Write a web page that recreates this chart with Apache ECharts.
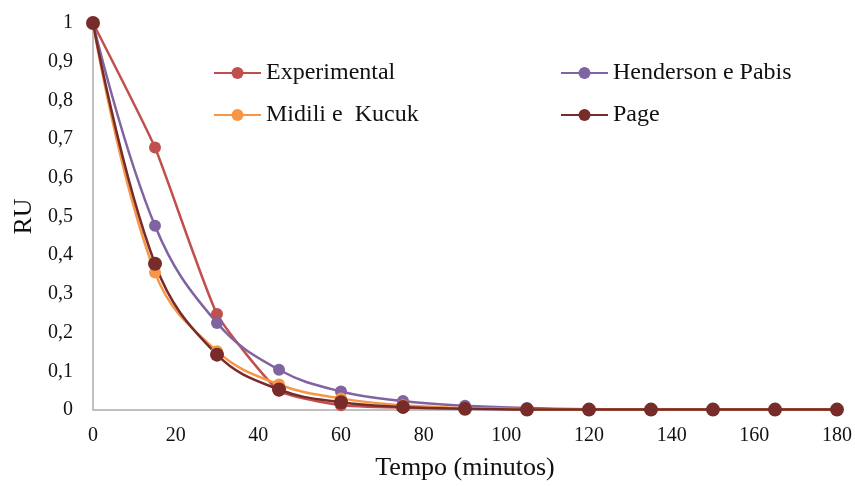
<!DOCTYPE html>
<html>
<head>
<meta charset="utf-8">
<script src="https://cdn.jsdelivr.net/npm/echarts@6/dist/echarts.min.js"></script>
<style>
  html, body { margin: 0; padding: 0; background: #fff; }
  #chart { width: 855px; height: 486px; }
</style>
</head>
<body>
<div id="chart"></div>
<script>
// tempo (minutos)
var tempo = [0, 15, 30, 45, 60, 75, 90, 105, 120, 135, 150, 165, 180]
var experimental = [1, 0.678, 0.248, 0.05, 0.012, 0.006, 0.004, 0.002, 0.001, 0.001, 0.001, 0.001, 0.001]
var henderson = [1, 0.476, 0.225, 0.104, 0.048, 0.023, 0.011, 0.005, 0.002, 0.001, 0.001, 0.001, 0.001]
var midili = [1, 0.355, 0.152, 0.066, 0.03, 0.012, 0.005, 0.002, 0.001, 0.001, 0.001, 0.001, 0.001]
var page = [1, 0.378, 0.143, 0.053, 0.02, 0.008, 0.003, 0.001, 0.001, 0.001, 0.001, 0.001, 0.001]

function pares(vals) {
  return tempo.map(function(t, i) { return [t, vals[i]] })
}

var fonte = 'Liberation Serif'
var chart = echarts.init(document.getElementById('chart'))

function serie(nome, cor, dados, tam, suave) {
  return {
    name: nome,
    type: 'line',
    data: pares(dados),
    smooth: suave,
    symbol: 'circle',
    symbolSize: tam,
    itemStyle: { color: cor },
    lineStyle: { color: cor, width: 2.5 }
  }
}

// legenda em duas colunas
function legenda(itens, x) {
  return {
    data: itens,
    orient: 'vertical',
    left: x,
    top: 56,
    itemGap: 18,
    itemWidth: 47,
    itemHeight: 15,
    textStyle: { fontFamily: fonte, fontSize: 24, color: '#111' }
  }
}

chart.setOption({
  animation: false,
  grid: { left: 93, right: 18, top: 23, bottom: 76 },
  legend: [
    legenda(['Experimental', 'Midili e  Kucuk'], 208),
    legenda(['Henderson e Pabis', 'Page'], 555)
  ],
  xAxis: {
    type: 'value',
    min: 0,
    max: 180,
    interval: 20,
    name: 'Tempo (minutos)',
    nameLocation: 'middle',
    nameGap: 45,
    nameTextStyle: { fontFamily: fonte, fontSize: 26, color: '#111' },
    axisLine: { lineStyle: { color: '#c0c0c0', width: 2 } },
    axisTick: { show: false },
    splitLine: { show: false },
    axisLabel: { fontFamily: fonte, fontSize: 20, color: '#111', margin: 16 }
  },
  yAxis: {
    type: 'value',
    min: 0,
    max: 1,
    interval: 0.1,
    name: 'RU',
    nameLocation: 'middle',
    nameGap: 53,
    nameTextStyle: { fontFamily: fonte, fontSize: 26, color: '#111' },
    axisLine: { show: true, lineStyle: { color: '#c0c0c0', width: 2 } },
    axisTick: { show: false },
    splitLine: { show: false },
    axisLabel: {
      fontFamily: fonte,
      fontSize: 20,
      color: '#111',
      margin: 20,
      formatter: function(v) { return String(Math.round(v * 10) / 10).replace('.', ',') }
    }
  },
  series: [
    serie('Experimental', '#c0504d', experimental, 12, 0.15),
    serie('Henderson e Pabis', '#8064a2', henderson, 12, 0.4),
    serie('Midili e  Kucuk', '#f79646', midili, 12, 0.4),
    serie('Page', '#772c2a', page, 14, 0.4)
  ]
})
</script>
</body>
</html>
